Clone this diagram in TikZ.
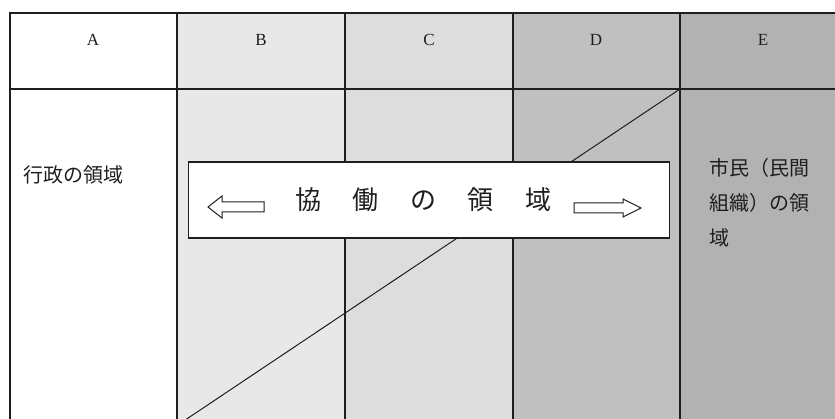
\documentclass[tikz,border=0pt]{standalone}
\usepackage{fontspec}
\setmainfont{Liberation Serif}
\newfontfamily\cjk{Noto Sans CJK JP}
\definecolor{colB}{RGB}{232,232,232}
\definecolor{colC}{RGB}{221,221,221}
\definecolor{colD}{RGB}{192,192,192}
\definecolor{colE}{RGB}{178,178,178}
\definecolor{ink}{RGB}{30,30,30}
\tikzset{
  grid line/.style={draw=ink, line width=1.3pt},
  head/.style={font=\fontsize{17}{19}\selectfont, text=ink},
  body/.style={font=\cjk\fontsize{20}{35}\selectfont, text=ink, inner sep=0pt},
  hollow arrow/.style={draw=ink, fill=white, line width=1pt, line join=miter},
}
\begin{document}
\begin{tikzpicture}[x=1pt,y=-1pt]
\useasboundingbox (0,0) rectangle (835,419);
\begin{scope}
\clip (0,0) rectangle (835,419);
\fill[colB] (177,13) rectangle (345,430);
\fill[colC] (345,13) rectangle (513,430);
\fill[colD] (513,13) rectangle (680,430);
\fill[colE] (680,13) rectangle (850,430);
\draw[grid line] (10,430) -- (10,13) -- (850,13);
\draw[grid line] (10,89) -- (850,89);
\foreach \x in {177,345,513,680} \draw[grid line] (\x,13) -- (\x,430);
\coordinate (diagTop) at (680,89);
\coordinate (diagEnd) at (180,423.5);
\draw[draw=ink, line width=1pt] (diagTop) -- (diagEnd);
\end{scope}
% headers
\node[head] (hA) at (93,40) {A};
\node[head] (hB) at (261,40) {B};
\node[head] (hC) at (429,40) {C};
\node[head] (hD) at (596,40) {D};
\node[head] (hE) at (763,40) {E};
% side texts
\node[body, anchor=west] (gov) at (23,175) {行政の領域};
\node[body, anchor=north west, align=left] (citizen) at (709,158) {市民（民間\\組織）の領\\域};
% band
\node[draw=ink, fill=white, line width=1.3pt, minimum width=481pt, minimum height=76pt, inner sep=0pt] (band) at (429,200) {};
\node[font=\cjk\fontsize{26}{28}\selectfont, text=ink, inner sep=0pt] (bandtext) at (423,200)
  {協\hspace{31.5pt}働\hspace{31.5pt}の\hspace{31.5pt}領\hspace{31.5pt}域};
\draw[hollow arrow] (208,207) -- (222,196) -- (222,202) -- (264,202) -- (264,212) -- (222,212) -- (222,218) -- cycle;
\draw[hollow arrow] (641,208) -- (623,199) -- (623,203) -- (574,203) -- (574,213) -- (623,213) -- (623,217) -- cycle;
\end{tikzpicture}
\end{document}
